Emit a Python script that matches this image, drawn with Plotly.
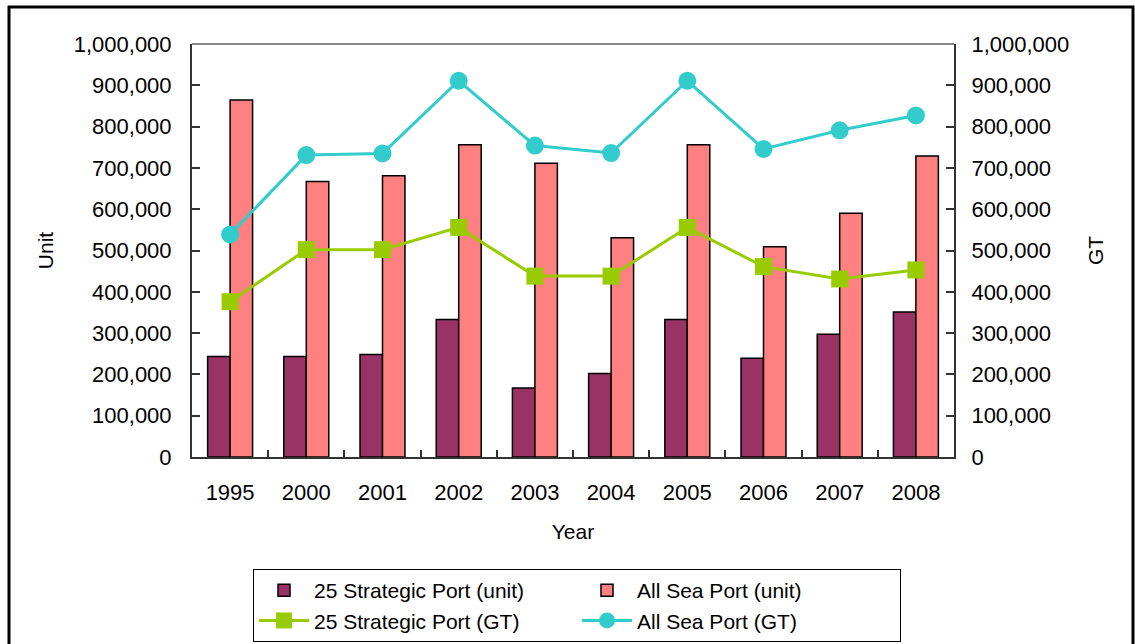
import plotly.graph_objects as go

years = ["1995", "2000", "2001", "2002", "2003", "2004", "2005", "2006", "2007", "2008"]
strategic_unit = [243500, 243500, 248000, 333000, 167000, 202000, 333000, 239000, 297500, 351000]
allsea_unit = [864500, 667000, 681000, 756000, 711000, 531000, 756000, 509000, 590000, 729000]
strategic_gt = [376000, 502000, 502000, 556000, 438000, 438000, 556000, 461000, 431000, 453000]
allsea_gt = [539000, 731000, 735000, 911000, 754000, 736000, 911000, 746000, 791000, 827000]
tick_vals = list(range(0, 1000001, 100000))
tick_text = ["0"] + [f"{v:,}" for v in tick_vals[1:]]

FONT = "Liberation Sans, Arial, sans-serif"
W, H = 1135, 644
L, R, T, B = 192, 954, 44, 457

fig = go.Figure()
fig.add_trace(go.Bar(x=years, y=strategic_unit, name="25 Strategic Port (unit)",
                     marker=dict(color="#993366", line=dict(color="black", width=1.5))))
fig.add_trace(go.Bar(x=years, y=allsea_unit, name="All Sea Port (unit)",
                     marker=dict(color="#FF8080", line=dict(color="black", width=1.5))))
fig.add_trace(go.Scatter(x=years, y=strategic_gt, name="25 Strategic Port (GT)", yaxis="y2",
                         mode="lines+markers", line=dict(color="#99CC00", width=3),
                         marker=dict(symbol="square", size=17, color="#99CC00")))
fig.add_trace(go.Scatter(x=years, y=allsea_gt, name="All Sea Port (GT)", yaxis="y2",
                         mode="lines+markers", line=dict(color="#33CCCC", width=3),
                         marker=dict(symbol="circle", size=18, color="#33CCCC")))

def px(x):
    return (x - L) / (R - L)

def py(y):
    return (B - y) / (B - T)

fig.update_layout(
    width=W, height=H,
    margin=dict(l=L, r=W - R, t=T, b=H - B, pad=0),
    paper_bgcolor="white", plot_bgcolor="white",
    font=dict(family=FONT, size=22, color="black"),
    barmode="group", bargap=0.41, bargroupgap=0,
    showlegend=True,
    legend=dict(orientation="h", xref="container", yref="container",
                x=253 / W, y=1 - 569 / H, xanchor="left", yanchor="top",
                bordercolor="black", borderwidth=1, bgcolor="white",
                font=dict(family=FONT, size=21), entrywidth=258, itemwidth=50,
                traceorder="normal", tracegroupgap=0),
    xaxis=dict(range=[-0.5, len(years) - 0.5],
               showline=True, linecolor="#333333", linewidth=2, ticks="inside",
               tickson="boundaries", ticklen=7, tickcolor="#333333", tickwidth=1.5,
               tickfont=dict(size=22), ticklabelstandoff=15,
               title=dict(text="Year", font=dict(size=21), standoff=20),
               showgrid=False, zeroline=False),
    yaxis=dict(range=[0, 1000000], tickvals=tick_vals, ticktext=tick_text,
               showline=True, linecolor="#333333", linewidth=2, ticks="inside",
               ticklen=8, tickcolor="#333333", tickwidth=1.5,
               tickfont=dict(size=22), ticklabelstandoff=14,
               title=dict(text="Unit", font=dict(size=21), standoff=14),
               showgrid=False, zeroline=False),
    yaxis2=dict(range=[0, 1000000], tickvals=tick_vals, ticktext=tick_text,
                overlaying="y", side="right",
                showline=True, linecolor="#333333", linewidth=2, ticks="inside",
                ticklen=8, tickcolor="#333333", tickwidth=1.5,
                tickfont=dict(size=22), ticklabelstandoff=11,
                title=dict(text="GT", font=dict(size=21), standoff=20),
                showgrid=False, zeroline=False),
    shapes=[
        dict(type="line", xref="paper", yref="paper", x0=0, x1=1, y0=1, y1=1,
             line=dict(color="#888888", width=2)),
        dict(type="rect", xref="paper", yref="paper", x0=px(9), x1=px(1133),
             y0=py(660), y1=py(7), line=dict(color="black", width=3),
             fillcolor="rgba(0,0,0,0)", layer="below"),
    ],
)

fig.write_html("out.html", config={"displayModeBar": False},
               post_script="document.body.style.margin='0px';document.body.style.overflow='hidden';")
